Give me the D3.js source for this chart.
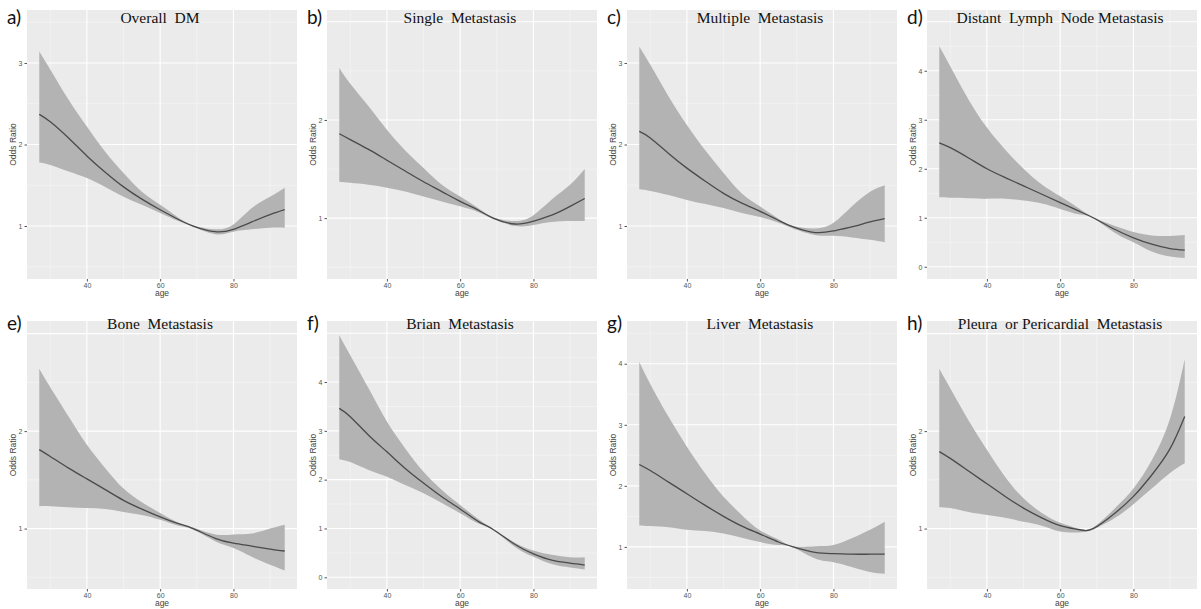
<!DOCTYPE html>
<html>
<head>
<meta charset="utf-8">
<script src="https://cdn.jsdelivr.net/npm/d3@7"></script>
<style>
  body { margin: 0; background: #fff; }
  svg { display: block; }
</style>
</head>
<body>
<div id="chart"></div>
<script>
// age values where the curves were read
var ages = [27, 30, 35, 40, 45, 50, 55, 60, 65, 69, 75, 80, 85, 90, 94]

var letters = ["a)", "b)", "c)", "d)", "e)", "f)", "g)", "h)"]
var titles = ["Overall  DM", "Single  Metastasis", "Multiple  Metastasis", "Distant  Lymph  Node Metastasis",
              "Bone  Metastasis", "Brian  Metastasis", "Liver  Metastasis", "Pleura  or Pericardial  Metastasis"]

// odds ratio estimate, lower and upper band for each panel
var estA = [2.37, 2.28, 2.08, 1.86, 1.66, 1.48, 1.33, 1.20, 1.08, 1.00, 0.93, 0.96, 1.05, 1.14, 1.20]
var loA  = [1.78, 1.75, 1.67, 1.59, 1.48, 1.36, 1.26, 1.16, 1.06, 0.99, 0.90, 0.93, 0.96, 0.98, 0.98]
var hiA  = [3.14, 2.92, 2.55, 2.22, 1.91, 1.65, 1.42, 1.26, 1.10, 1.01, 0.96, 1.02, 1.22, 1.36, 1.47]

var estB = [1.86, 1.80, 1.70, 1.59, 1.48, 1.37, 1.27, 1.17, 1.08, 1.00, 0.94, 0.97, 1.03, 1.12, 1.20]
var loB  = [1.37, 1.36, 1.34, 1.31, 1.27, 1.22, 1.17, 1.12, 1.06, 0.99, 0.92, 0.93, 0.96, 0.97, 0.97]
var hiB  = [2.53, 2.37, 2.14, 1.90, 1.69, 1.51, 1.34, 1.22, 1.10, 1.01, 0.97, 1.03, 1.19, 1.34, 1.50]

var estC = [2.16, 2.08, 1.89, 1.71, 1.55, 1.40, 1.28, 1.18, 1.07, 0.99, 0.92, 0.94, 0.99, 1.05, 1.09]
var loC  = [1.45, 1.43, 1.38, 1.32, 1.27, 1.22, 1.16, 1.11, 1.04, 0.97, 0.89, 0.88, 0.86, 0.83, 0.80]
var hiC  = [3.20, 2.98, 2.59, 2.24, 1.93, 1.65, 1.40, 1.24, 1.09, 1.00, 0.97, 1.04, 1.24, 1.42, 1.50]

var estD = [2.53, 2.43, 2.22, 2.00, 1.82, 1.65, 1.48, 1.31, 1.14, 1.00, 0.76, 0.59, 0.46, 0.37, 0.34]
var loD  = [1.42, 1.41, 1.40, 1.39, 1.39, 1.35, 1.29, 1.18, 1.07, 0.99, 0.69, 0.50, 0.31, 0.21, 0.18]
var hiD  = [4.50, 4.09, 3.41, 2.84, 2.39, 2.00, 1.68, 1.44, 1.20, 1.01, 0.83, 0.71, 0.64, 0.63, 0.65]

var estE = [1.81, 1.74, 1.62, 1.51, 1.40, 1.29, 1.20, 1.12, 1.05, 1.00, 0.90, 0.85, 0.82, 0.79, 0.77]
var loE  = [1.23, 1.23, 1.22, 1.21, 1.20, 1.17, 1.14, 1.09, 1.03, 0.99, 0.87, 0.80, 0.71, 0.63, 0.57]
var hiE  = [2.64, 2.45, 2.15, 1.86, 1.62, 1.41, 1.27, 1.16, 1.06, 1.01, 0.94, 0.94, 0.95, 1.00, 1.04]

var estF = [3.46, 3.29, 2.91, 2.57, 2.23, 1.93, 1.65, 1.40, 1.14, 0.98, 0.67, 0.48, 0.35, 0.29, 0.25]
var loF  = [2.42, 2.36, 2.20, 2.06, 1.89, 1.72, 1.52, 1.31, 1.10, 0.97, 0.62, 0.42, 0.27, 0.20, 0.16]
var hiF  = [4.96, 4.55, 3.87, 3.19, 2.64, 2.16, 1.79, 1.48, 1.19, 0.99, 0.71, 0.55, 0.46, 0.41, 0.41]

var estG = [2.35, 2.25, 2.06, 1.87, 1.68, 1.50, 1.34, 1.21, 1.08, 1.00, 0.91, 0.89, 0.88, 0.88, 0.88]
var loG  = [1.35, 1.34, 1.32, 1.28, 1.26, 1.22, 1.15, 1.08, 1.03, 0.99, 0.81, 0.75, 0.67, 0.59, 0.56]
var hiG  = [4.03, 3.67, 3.13, 2.64, 2.20, 1.82, 1.52, 1.27, 1.12, 1.01, 1.01, 1.03, 1.14, 1.28, 1.41]

var estH = [1.79, 1.72, 1.59, 1.46, 1.33, 1.21, 1.11, 1.03, 0.99, 1.00, 1.16, 1.33, 1.55, 1.82, 2.15]
var loH  = [1.22, 1.21, 1.17, 1.14, 1.11, 1.07, 1.03, 0.97, 0.96, 0.99, 1.11, 1.25, 1.41, 1.57, 1.67]
var hiH  = [2.64, 2.44, 2.11, 1.81, 1.53, 1.31, 1.16, 1.06, 1.00, 1.01, 1.21, 1.41, 1.70, 2.13, 2.74]

var estAll = [estA, estB, estC, estD, estE, estF, estG, estH]
var loAll = [loA, loB, loC, loD, loE, loF, loG, loH]
var hiAll = [hiA, hiB, hiC, hiD, hiE, hiF, hiG, hiH]

var yDomains = [[0.35, 3.65], [0.38, 3.12], [0.35, 3.65], [-0.25, 5.24],
                [0.38, 3.13], [-0.24, 5.25], [0.31, 4.70], [0.38, 3.13]]
var yTicks = [[1, 2, 3], [1, 2], [1, 2, 3], [0, 1, 2, 3, 4],
              [1, 2], [0, 1, 2, 3, 4], [1, 2, 3, 4], [1, 2]]
var xTicks = [40, 60, 80]
var xMinor = [30, 50, 70, 90]

var svg = d3.select("#chart").append("svg")
    .attr("width", 1201)
    .attr("height", 609)
    .style("font-family", "'Liberation Sans', Arial, sans-serif")

var drawPanel = function(i) {
  var col = i % 4, row = Math.floor(i / 4)
  var offX = col * 300
  var pTop = row == 0 ? 10 : 321
  var pBottom = row == 0 ? 279 : 589
  var titleY = row == 0 ? 23 : 329   // titles sit a bit higher on the second row
  var letterY = row == 0 ? 24 : 330

  var x = d3.scaleLinear().domain([23.65, 97.35]).range([offX + 27, offX + 297])
  var y = d3.scaleLinear().domain(yDomains[i]).range([pBottom, pTop])
  var x0 = x.range()[0], x1 = x.range()[1]

  var g = svg.append("g")

  g.append("rect")
    .attr("x", x0).attr("y", pTop)
    .attr("width", x1 - x0).attr("height", pBottom - pTop)
    .attr("fill", "#ebebeb")

  // minor grid (half steps), then major
  var dom = yDomains[i]
  var yMinor = []
  for (var v = Math.ceil(dom[0] * 2) / 2; v <= dom[1]; v += 0.5) {
    if (v % 1 != 0) yMinor.push(v)
  }
  var yMajor = d3.range(Math.ceil(dom[0]), Math.floor(dom[1]) + 1)

  g.selectAll(".hmin").data(yMinor).enter().append("line")
    .attr("x1", x0).attr("x2", x1)
    .attr("y1", function(d) { return y(d) }).attr("y2", function(d) { return y(d) })
    .attr("stroke", "#f7f7f7").attr("stroke-width", 0.6)
  g.selectAll(".vmin").data(xMinor).enter().append("line")
    .attr("y1", pTop).attr("y2", pBottom)
    .attr("x1", function(d) { return x(d) }).attr("x2", function(d) { return x(d) })
    .attr("stroke", "#f7f7f7").attr("stroke-width", 0.6)
  g.selectAll(".hmaj").data(yMajor).enter().append("line")
    .attr("x1", x0).attr("x2", x1)
    .attr("y1", function(d) { return y(d) }).attr("y2", function(d) { return y(d) })
    .attr("stroke", "#fff").attr("stroke-width", 1.1)
  g.selectAll(".vmaj").data(xTicks).enter().append("line")
    .attr("y1", pTop).attr("y2", pBottom)
    .attr("x1", function(d) { return x(d) }).attr("x2", function(d) { return x(d) })
    .attr("stroke", "#fff").attr("stroke-width", 1.1)

  var pts = ages.map(function(a, k) {
    return {age: a, est: estAll[i][k], lo: loAll[i][k], hi: hiAll[i][k]}
  })

  g.append("path")
    .datum(pts)
    .attr("fill", "#b3b3b3")
    .attr("d", d3.area()
      .curve(d3.curveNatural)
      .x(function(d) { return x(d.age) })
      .y0(function(d) { return y(d.lo) })
      .y1(function(d) { return y(d.hi) }))

  g.append("path")
    .datum(pts)
    .attr("fill", "none")
    .attr("stroke", "#4a4a4a")
    .attr("stroke-width", 1.3)
    .attr("d", d3.line()
      .curve(d3.curveNatural)
      .x(function(d) { return x(d.age) })
      .y(function(d) { return y(d.est) }))

  // axes
  var ay = g.append("g")
    .attr("transform", "translate(" + x0 + ",0)")
    .call(d3.axisLeft(y).tickValues(yTicks[i]).tickSize(2.5).tickPadding(2).tickFormat(d3.format("d")))
  var ax = g.append("g")
    .attr("transform", "translate(0," + pBottom + ")")
    .call(d3.axisBottom(x).tickValues(xTicks).tickSize(2.5).tickPadding(1.5))
  ay.select(".domain").remove()
  ax.select(".domain").remove()
  g.selectAll(".tick line").attr("stroke", "#555")
  g.selectAll(".tick text")
    .attr("fill", "#555")
    .style("font-size", "7px")
    .style("font-family", "'Liberation Sans', Arial, sans-serif")

  g.append("text")
    .attr("transform", "translate(" + (offX + 16) + "," + ((pTop + pBottom) / 2) + ") rotate(-90)")
    .attr("text-anchor", "middle")
    .attr("fill", "#444")
    .style("font-size", "8.5px")
    .text("Odds Ratio")

  g.append("text")
    .attr("x", (x0 + x1) / 2)
    .attr("y", pBottom + 17)
    .attr("text-anchor", "middle")
    .attr("fill", "#444")
    .style("font-size", "8.5px")
    .text("age")

  g.append("text")
    .attr("x", (x0 + x1) / 2 - 2)
    .attr("y", titleY)
    .attr("text-anchor", "middle")
    .attr("fill", "#111")
    .style("font-family", "'Liberation Serif', 'Times New Roman', serif")
    .style("font-size", "15.5px")
    .style("white-space", "pre")
    .text(titles[i])

  g.append("text")
    .attr("x", offX + 7)
    .attr("y", letterY)
    .attr("fill", "#111")
    .style("font-family", "Lato, 'Open Sans', sans-serif")
    .style("font-size", "19px")
    .text(letters[i])
}

for (var i = 0; i < 8; i++) drawPanel(i)
</script>
</body>
</html>
